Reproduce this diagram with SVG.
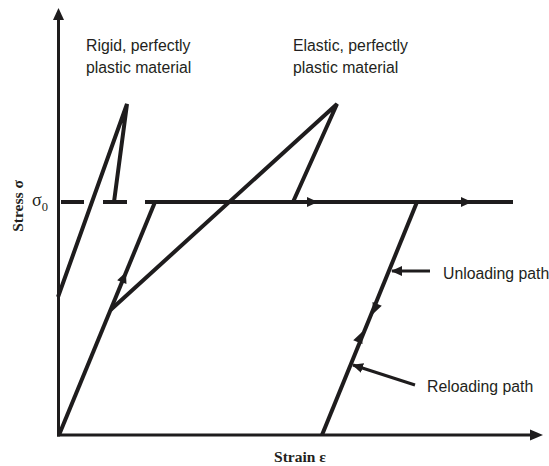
<svg xmlns="http://www.w3.org/2000/svg" xmlns:xlink="http://www.w3.org/1999/xlink" width="549" height="466" viewBox="0 0 549 466">
<style>
.ln{fill:none;stroke:#1e1c1d;stroke-width:4;stroke-linejoin:miter;stroke-linecap:butt}
.ax{fill:none;stroke:#1e1c1d;stroke-width:3}
.ptr{fill:none;stroke:#1e1c1d;stroke-width:3}
.lbl{font-family:"Liberation Sans",Arial,sans-serif;font-size:15.8px;fill:#231f20}
.axl{font-family:"Liberation Serif","Times New Roman",serif;font-size:15.5px;font-weight:bold;fill:#231f20}
.sym{font-family:"Liberation Serif","Times New Roman",serif;fill:#231f20}
.tri{fill:#1e1c1d}
</style>
<defs>
<path id="tri" d="M0,0 L-11,-5 L-11,5 Z"/>
<marker id="ptrhead" markerUnits="userSpaceOnUse" markerWidth="14" markerHeight="12" refX="10" refY="5" orient="auto">
<path d="M0,0 L11,5 L0,10 Z" fill="#1e1c1d"/>
</marker>
</defs>
<g id="axes">
<line class="ax" x1="58.5" y1="436.5" x2="58.5" y2="19"/>
<path class="tri" d="M58.5,8 L53,20 L64,20 Z"/>
<line class="ax" x1="57" y1="435" x2="531" y2="435"/>
<path class="tri" d="M543,435 L530,429.5 L530,440.5 Z"/>
</g>
<g id="rigid-curve">
<polyline class="ln" points="58,297 127,104 114,202"/>
<line class="ln" x1="61" y1="202" x2="84" y2="202"/>
<line class="ln" x1="103" y1="202" x2="127" y2="202"/>
</g>
<g id="elastic-curve">
<polyline class="ln" points="59,435 155,202"/>
<polyline class="ln" points="110.5,310 337,104 293,202"/>
<line class="ln" x1="145" y1="202" x2="513" y2="202"/>
<polyline class="ln" points="417,202 322,435"/>
</g>
<g id="connectors">
<use xlink:href="#tri" class="tri" transform="translate(318,202)"/>
<use xlink:href="#tri" class="tri" transform="translate(472,202)"/>
<use xlink:href="#tri" class="tri" transform="translate(126,272) rotate(-67.6)"/>
<use xlink:href="#tri" class="tri" transform="translate(373,314) rotate(112.2)"/>
<use xlink:href="#tri" class="tri" transform="translate(362,332) rotate(-67.8)"/>
<line class="ptr" x1="430" y1="271" x2="392" y2="271" marker-end="url(#ptrhead)"/>
<line class="ptr" x1="415" y1="385" x2="353" y2="365" marker-end="url(#ptrhead)"/>
</g>
<g id="label-rigid">
<text class="lbl" x="86" y="51">Rigid, perfectly</text>
<text class="lbl" x="86" y="73">plastic material</text>
</g>
<g id="label-elastic">
<text class="lbl" x="293" y="51">Elastic, perfectly</text>
<text class="lbl" x="293" y="73">plastic material</text>
</g>
<g id="label-unloading">
<text class="lbl" x="443" y="279">Unloading path</text>
</g>
<g id="label-reloading">
<text class="lbl" x="427" y="392">Reloading path</text>
</g>
<g id="label-sigma0">
<text class="sym" x="32" y="206" font-size="18">σ<tspan font-size="12.5" dy="5">0</tspan></text>
</g>
<g id="axis-labels">
<text class="axl" transform="translate(23,206) rotate(-90)" text-anchor="middle">Stress σ</text>
<text class="axl" x="300" y="462" text-anchor="middle">Strain ε</text>
</g>
</svg>
